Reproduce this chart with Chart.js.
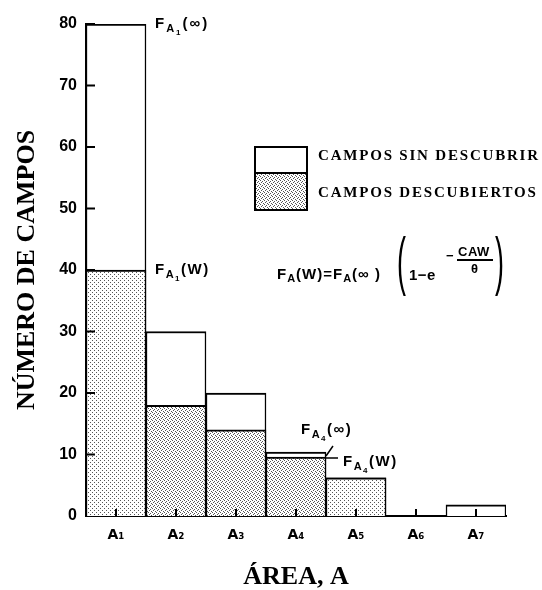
<!DOCTYPE html>
<html>
<head>
<meta charset="utf-8">
<script src="https://cdn.jsdelivr.net/npm/chart.js@4.4.1/dist/chart.umd.min.js"></script>
<style>
    body { margin: 0; background: #fff; }
    #chartBox { width: 542px; height: 590px; }
</style>
</head>
<body>
<div id="chartBox"><canvas id="fieldsChart" width="542" height="590"></canvas></div>
<script>
"use strict";

// valores
const areaLabels = ["A₁", "A₂", "A₃", "A₄", "A₅", "A₆", "A₇"];
const totalFields = [80, 30, 20, 10.4, 6.2, 0, 1.8];
const discoveredFields = [40, 18, 14, 9.6, 6.2, 0, 0];
const yTicks = [0, 10, 20, 30, 40, 50, 60, 70, 80];
const legendLabels = ["CAMPOS SIN DESCUBRIR", "CAMPOS DESCUBIERTOS"];

const SANS = "'Liberation Sans', Arial, sans-serif";
const SERIF = "'Liberation Serif', 'Times New Roman', serif";

function makeStipple(g, dots, color) {
    const tile = document.createElement("canvas");
    tile.width = 4;
    tile.height = 4;
    const t = tile.getContext("2d");
    t.fillStyle = "#fff";
    t.fillRect(0, 0, 4, 4);
    t.fillStyle = color;
    dots.forEach(d => t.fillRect(d[0], d[1], 1, 1));
    return g.createPattern(tile, "repeat");
}

// dibuja texto con subíndices, devuelve la x final
function drawParts(ctx, x, y, parts, spacing) {
    parts.forEach(p => {
        ctx.font = `bold ${p.s}px ${SANS}`;
        ctx.letterSpacing = (spacing ?? 0) + "px";
        ctx.fillText(p.t, x, y + (p.dy ?? 0));
        x += ctx.measureText(p.t).width;
    });
    ctx.letterSpacing = "0px";
    return x;
}

function drawParen(ctx, ch, x, baseline) {
    ctx.save();
    ctx.translate(x, baseline);
    ctx.scale(0.42, 1);
    ctx.font = `64px ${SANS}`;
    ctx.fillText(ch, 0, 0);
    ctx.restore();
}

const annotationPlugin = {
    id: "annotations",
    afterDraw(chart) {
        const ctx = chart.ctx;
        const area = chart.chartArea;
        const xs = chart.scales.x;
        const ys = chart.scales.y;
        const bars = chart.getDatasetMeta(1).data;

        ctx.save();
        ctx.strokeStyle = "#000";
        ctx.fillStyle = "#000";
        ctx.lineWidth = 2;

        // marcas hacia dentro
        ctx.beginPath();
        yTicks.slice(1).forEach(v => {
            const py = ys.getPixelForValue(v);
            ctx.moveTo(area.left, py);
            ctx.lineTo(area.left + 9, py);
        });
        areaLabels.forEach((_, i) => {
            const px = xs.getPixelForValue(i);
            ctx.moveTo(px, area.bottom);
            ctx.lineTo(px, area.bottom - 7);
        });
        ctx.stroke();

        ctx.textBaseline = "alphabetic";
        ctx.textAlign = "left";

        const right0 = bars[0].x + bars[0].width / 2;
        drawParts(ctx, right0 + 9, ys.getPixelForValue(totalFields[0]) + 4, [
            { t: "F", s: 15 }, { t: "A", s: 11, dy: 4 }, { t: "1", s: 8, dy: 7 }, { t: "(∞)", s: 15 }
        ], 2);
        drawParts(ctx, right0 + 9, ys.getPixelForValue(discoveredFields[0]) + 4, [
            { t: "F", s: 15 }, { t: "A", s: 11, dy: 4 }, { t: "1", s: 8, dy: 7 }, { t: "(W)", s: 15 }
        ], 1.5);

        const left3 = bars[3].x - bars[3].width / 2;
        const right3 = bars[3].x + bars[3].width / 2;
        const top3 = ys.getPixelForValue(totalFields[3]);
        const w3 = ys.getPixelForValue(discoveredFields[3]);
        drawParts(ctx, left3 + 35, top3 - 18, [
            { t: "F", s: 15 }, { t: "A", s: 11, dy: 4 }, { t: "4", s: 8, dy: 7 }, { t: "(∞)", s: 15 }
        ], 1.5);
        drawParts(ctx, right3 + 17, w3 + 9, [
            { t: "F", s: 15 }, { t: "A", s: 11, dy: 4 }, { t: "4", s: 8, dy: 7 }, { t: "(W)", s: 15 }
        ], 1.5);
        ctx.lineWidth = 1.5;
        ctx.beginPath();
        ctx.moveTo(right3, w3 + 1);
        ctx.lineTo(right3 + 12, w3 + 1);
        ctx.moveTo(right3, w3 - 1);
        ctx.lineTo(right3 + 7, top3 - 6);
        ctx.stroke();

        // leyenda
        ctx.lineWidth = 2;
        ctx.fillStyle = chart.$stippleDense;
        ctx.fillRect(255, 173, 52, 37);
        ctx.strokeRect(255, 147, 52, 63);
        ctx.beginPath();
        ctx.moveTo(255, 173);
        ctx.lineTo(307, 173);
        ctx.stroke();
        ctx.fillStyle = "#000";
        ctx.font = `bold 15px ${SERIF}`;
        ctx.letterSpacing = "1.8px";
        ctx.fillText(legendLabels[0], 318, 160);
        ctx.fillText(legendLabels[1], 318, 197);
        ctx.letterSpacing = "0px";

        // fórmula
        drawParts(ctx, 277, 279, [
            { t: "F", s: 15 }, { t: "A", s: 11, dy: 3 }, { t: "(W)=F", s: 15 },
            { t: "A", s: 11, dy: 3 }, { t: "(∞ )", s: 15 }
        ], 1);
        drawParen(ctx, "(", 397, 283);
        drawParts(ctx, 409, 280, [{ t: "1−e", s: 15 }], 0.5);
        drawParts(ctx, 446, 260, [{ t: "−", s: 13 }]);
        drawParts(ctx, 458, 256, [{ t: "CAW", s: 13 }], 0.5);
        ctx.lineWidth = 2;
        ctx.beginPath();
        ctx.moveTo(457, 260);
        ctx.lineTo(493, 260);
        ctx.stroke();
        drawParts(ctx, 471, 273, [{ t: "θ", s: 13 }]);
        drawParen(ctx, ")", 495, 283);

        ctx.restore();
    }
};

const canvas = document.getElementById("fieldsChart");
const g2d = canvas.getContext("2d");
const stippleDense = makeStipple(g2d, [[0, 0], [2, 1], [1, 2], [3, 3]], "#555");
const stippleLight = makeStipple(g2d, [[0, 0], [2, 2]], "#555");

const fieldsChart = new Chart(canvas, {
    type: "bar",
    data: {
        labels: areaLabels,
        datasets: [
            {
                label: "Campos descubiertos",
                data: discoveredFields,
                backgroundColor: [stippleLight, stippleDense, stippleDense, stippleDense, stippleLight, stippleDense, stippleDense],
                borderColor: "#000",
                borderWidth: { top: 2, left: 1.5, right: 1.5, bottom: 0 }
            },
            {
                label: "Campos sin descubrir",
                data: totalFields,
                backgroundColor: "#fff",
                borderColor: "#000",
                borderWidth: { top: 2, left: 1.5, right: 1.5, bottom: 0 }
            }
        ]
    },
    options: {
        responsive: false,
        animation: false,
        layout: { padding: { top: 24, right: 36, bottom: 0, left: 0 } },
        datasets: {
            bar: { grouped: false, barPercentage: 1, categoryPercentage: 1 }
        },
        plugins: {
            legend: { display: false },
            tooltip: { enabled: false }
        },
        scales: {
            x: {
                grid: { display: false, drawTicks: false },
                border: { display: true, color: "#000", width: 2 },
                ticks: {
                    color: "#000",
                    padding: 11,
                    font: { family: "'DejaVu Sans', sans-serif", size: 14, weight: "bold" }
                },
                title: {
                    display: true,
                    text: "ÁREA, A",
                    color: "#000",
                    padding: { top: 0, bottom: 0 },
                    font: { family: SERIF, size: 26, weight: "bold", lineHeight: 1 }
                },
                afterFit: scale => { scale.height = 74; }
            },
            y: {
                min: 0,
                max: 80,
                afterBuildTicks: scale => {
                    scale.ticks = yTicks.map(v => ({ value: v }));
                },
                grid: { display: false, drawTicks: false },
                border: { display: true, color: "#000", width: 2 },
                ticks: {
                    color: "#000",
                    padding: 9,
                    font: { family: SANS, size: 16, weight: "bold" }
                },
                title: {
                    display: true,
                    text: "NÚMERO DE CAMPOS",
                    color: "#000",
                    padding: { top: 14, bottom: 0 },
                    font: { family: SERIF, size: 26, weight: "bold", lineHeight: 1 }
                },
                afterFit: scale => { scale.width = 86; }
            }
        }
    },
    plugins: [annotationPlugin]
});
fieldsChart.$stippleDense = stippleDense;
fieldsChart.draw();
</script>
</body>
</html>
